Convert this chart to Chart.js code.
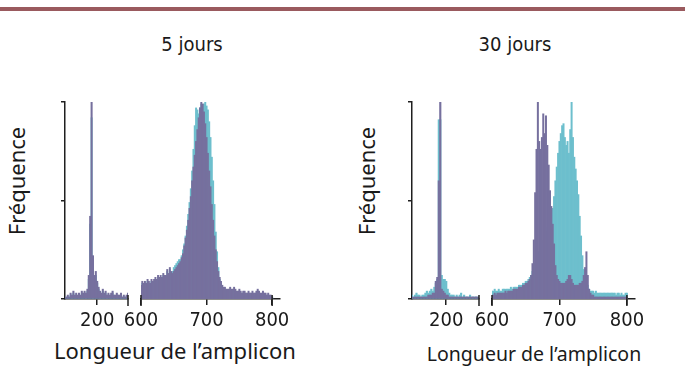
<!DOCTYPE html>
<html lang="fr">
<head>
<meta charset="utf-8">
<title>Longueur de l'amplicon - 5 jours / 30 jours</title>
<script src="https://cdn.jsdelivr.net/npm/chart.js@4.4.1/dist/chart.umd.min.js"></script>
<style>
    html, body { margin: 0; padding: 0; background: #fff; }
    body { width: 685px; height: 367px; position: relative; overflow: hidden; color: #1a1a1a; font-family: 'Noto Sans', sans-serif; }
    .barre { position: absolute; left: 0; top: 7px; width: 685px; height: 4px; background: #9a5a5e; }
    canvas { position: absolute; }
    .titre { position: absolute; top: 32px; font-family: 'Liberation Sans Narrow', 'DejaVu Sans Condensed', sans-serif; font-size: 20px; transform: translateX(-50%); white-space: nowrap; }
    .axeX { position: absolute; top: 335px; font-size: 22px; transform: translateX(-50%); white-space: nowrap; }
    .axeY { position: absolute; font-size: 22px; transform: translate(-50%, -50%) rotate(-90deg); white-space: nowrap; }
</style>
</head>
<body>
<div class="barre"></div>

<div class="titre" style="left:192px">5 jours</div>
<div class="titre" style="left:515px">30 jours</div>
<div class="axeY" style="left:16px; top:181px">Fréquence</div>
<div class="axeY" style="left:366px; top:181px">Fréquence</div>
<div class="axeX" style="left:175px">Longueur de l’amplicon</div>
<div class="axeX" style="left:534px; top:340px; font-size:19.5px">Longueur de l’amplicon</div>

<canvas id="p1Gauche" width="140" height="250" style="left:0px; top:90px"></canvas>
<canvas id="p1Droite" width="195" height="250" style="left:115px; top:90px"></canvas>
<canvas id="p2Gauche" width="144" height="250" style="left:347px; top:90px"></canvas>
<canvas id="p2Droite" width="200" height="250" style="left:466px; top:90px"></canvas>

<script>
// ---- DONNÉES (fréquence relative en %) ----

// segment gauche : 154..244 pb, pas de 2
const binsGauche = [154,156,158,160,162,164,166,168,170,172,174,176,178,180,182,184,186,188,190,192,
    194,196,198,200,202,204,206,208,210,212,214,216,218,220,222,224,226,228,230,232,
    234,236,238,240,242,244];

// segment droit : 600..800 pb, pas de 2
const binsDroite = [600,602,604,606,608,610,612,614,616,618,620,622,624,626,628,630,632,634,636,638,
    640,642,644,646,648,650,652,654,656,658,660,662,664,666,668,670,672,674,676,678,
    680,682,684,686,688,690,692,694,696,698,700,702,704,706,708,710,712,714,716,718,
    720,722,724,726,728,730,732,734,736,738,740,742,744,746,748,750,752,754,756,758,
    760,762,764,766,768,770,772,774,776,778,780,782,784,786,788,790,792,794,796,798,800];

const ticksGauche = [200];
const ticksDroite = [600, 700, 800];
const ticksY = [0, 50, 100];

// 5 jours
const violet5Gauche = [1,1,2,1,3,2,4,2,3,2, 3,2,4,3,4,3,5,12,42,100, 22,12,14,9,6,4,3,5,3,4, 2,3,2,3,4,2,2,3,2,2, 3,1,2,1,2,3];
const cyan5Gauche   = [0,1,1,1,2,1,3,1,2,1, 2,1,3,2,3,2,4,10,38,92, 18,10,12,8,5,3,2,4,2,3, 1,2,1,2,3,1,1,2,1,1, 2,1,1,1,1,2];

const violet5Droite = [7,9,8,9,8,10,9,8,10,9,
    10,11,10,12,11,12,11,13,12,12,
    15,13,16,14,13,14,15,16,17,18,
    19,21,23,27,31,35,40,46,52,60,
    67,73,80,86,92,97,100,99,95,89,
    82,74,65,57,48,40,32,25,19,14,
    11,9,7,6,6,5,5,5,6,5,
    5,6,5,4,4,5,4,3,4,4,
    3,3,4,3,3,4,3,3,4,5,
    4,3,3,4,3,3,2,3,2,2,
    1];
const cyan5Droite = [6,8,7,8,7,9,8,7,9,8,
    9,10,9,11,10,11,10,12,11,11,
    14,12,15,13,14,16,17,18,19,20,
    20,22,25,28,32,37,43,49,56,65,
    76,88,97,96,94,97,99,98,99,100,
    98,96,90,82,72,60,48,34,24,16,
    10,8,6,5,5,4,4,4,5,4,
    4,5,4,3,3,4,3,2,3,3,
    2,2,3,2,2,3,2,2,3,4,
    3,2,2,3,2,2,1,2,1,1,
    1];

// 30 jours
const violet30Gauche = [1,1,1,1,1,1,1,1,1,1, 1,2,2,2,3,3,9,11,60,100, 5,4,3,2,2,1,1,1,1,1, 1,1,1,1,1,1,1,1,1,1, 1,1,1,1,1,1];
const cyan30Gauche   = [2,1,2,3,2,2,1,2,2,3, 4,3,4,5,4,6,8,10,91,91, 12,10,10,9,5,3,2,2,2,1, 2,1,2,3,1,2,1,1,1,2, 1,1,1,1,1,1];

const violet30Droite = [2,2,3,2,3,3,3,3,3,3,
    4,3,4,4,4,4,5,5,5,5,
    6,6,6,7,7,8,8,9,10,12,
    18,30,54,76,100,80,76,82,94,84,
    93,78,68,55,47,38,28,17,12,10,
    9,8,8,8,8,9,10,12,12,10,
    8,7,7,7,7,8,8,9,12,16,
    24,12,5,3,2,2,1,1,1,1,
    1,1,1,1,1,1,1,1,1,1,
    1,1,1,1,1,1,1,1,1,1,
    1];
const cyan30Droite = [4,4,5,4,4,5,4,4,5,5,
    5,5,5,5,6,5,6,6,6,6,
    7,7,7,8,8,9,9,10,11,12,
    14,16,18,20,22,24,26,28,30,32,
    34,36,38,40,42,46,52,60,67,74,
    80,84,88,89,82,78,80,74,86,100,
    82,72,66,60,53,42,32,22,15,11,
    8,7,5,4,4,4,3,4,3,3,
    3,3,3,3,3,3,3,3,3,3,
    3,3,2,3,3,2,3,2,2,3,
    3];

// ---- COULEURS ----
const couleurs = {
    violet: '#76709e',
    cyan: '#6dbfcd',
    axe: '#1f1f1f',
    texte: '#1a1a1a'
};

// petites marques verticales aux coupures de l'axe
const marqueCoupure = {
    id: 'marqueCoupure',
    afterDraw(chart, args, opts) {
        const x = chart.scales.x;
        const c = chart.ctx;
        c.save();
        c.strokeStyle = couleurs.axe;
        c.lineWidth = 1.5;
        (opts.bords || []).forEach(v => {
            const px = x.getPixelForValue(v);
            c.beginPath();
            c.moveTo(px, x.top - 4);
            c.lineTo(px, x.top + 7);
            c.stroke();
        });
        c.restore();
    }
};

function enPoints(bins, valeurs) {
    return bins.map((b, i) => ({ x: b, y: valeurs[i] }));
}

function creerSegment(idCanvas, bins, violet, cyan, reglage) {
    const ctx = document.getElementById(idCanvas).getContext('2d');
    return new Chart(ctx, {
        type: 'bar',
        data: {
            datasets: [
                { label: 'violet', data: enPoints(bins, violet), backgroundColor: couleurs.violet },
                { label: 'cyan', data: enPoints(bins, cyan), backgroundColor: couleurs.cyan }
            ]
        },
        options: {
            responsive: false,
            animation: false,
            layout: { padding: reglage.padding },
            datasets: {
                bar: { grouped: false, barPercentage: 1, categoryPercentage: 1, borderWidth: 0 }
            },
            plugins: {
                legend: { display: false },
                tooltip: { enabled: false },
                marqueCoupure: { bords: reglage.bords }
            },
            scales: {
                x: {
                    type: 'linear',
                    offset: false,
                    min: reglage.min,
                    max: reglage.max,
                    afterBuildTicks: s => { s.ticks = reglage.ticks.map(v => ({ value: v })); },
                    afterFit: s => { s.height = 41; },
                    grid: { drawOnChartArea: false, tickLength: 6, color: couleurs.axe, lineWidth: 1.5, offset: false },
                    border: { color: couleurs.axe, width: 1.5 },
                    ticks: {
                        color: couleurs.texte,
                        font: { family: "'Liberation Sans Narrow', 'DejaVu Sans Condensed', sans-serif", size: 20 },
                        padding: 4,
                        maxRotation: 0,
                        autoSkip: false
                    }
                },
                y: {
                    display: reglage.axeY,
                    min: 0,
                    max: 100,
                    afterBuildTicks: s => { s.ticks = ticksY.map(v => ({ value: v })); },
                    afterFit: s => { s.width = 6; },
                    grid: { drawOnChartArea: false, tickLength: 4, color: couleurs.axe, lineWidth: 1.5 },
                    border: { color: couleurs.axe, width: 1.5 },
                    ticks: { display: false }
                }
            }
        },
        plugins: [marqueCoupure]
    });
}

document.addEventListener('DOMContentLoaded', function() {
    // 5 jours
    creerSegment('p1Gauche', binsGauche, violet5Gauche, cyan5Gauche, {
        min: 154, max: 244, ticks: ticksGauche, axeY: true, bords: [244],
        padding: { left: 59, right: 12, top: 12, bottom: 0 }
    });
    creerSegment('p1Droite', binsDroite, violet5Droite, cyan5Droite, {
        min: 600, max: 812, ticks: ticksDroite, axeY: false, bords: [600, 800],
        padding: { left: 20, right: 30, top: 12, bottom: 0 }
    });

    // 30 jours
    creerSegment('p2Gauche', binsGauche, violet30Gauche, cyan30Gauche, {
        min: 154, max: 244, ticks: ticksGauche, axeY: true, bords: [244],
        padding: { left: 59, right: 12, top: 12, bottom: 0 }
    });
    creerSegment('p2Droite', binsDroite, violet30Droite, cyan30Droite, {
        min: 600, max: 812, ticks: ticksDroite, axeY: false, bords: [600, 800],
        padding: { left: 20, right: 31, top: 12, bottom: 0 }
    });
});
</script>
</body>
</html>
